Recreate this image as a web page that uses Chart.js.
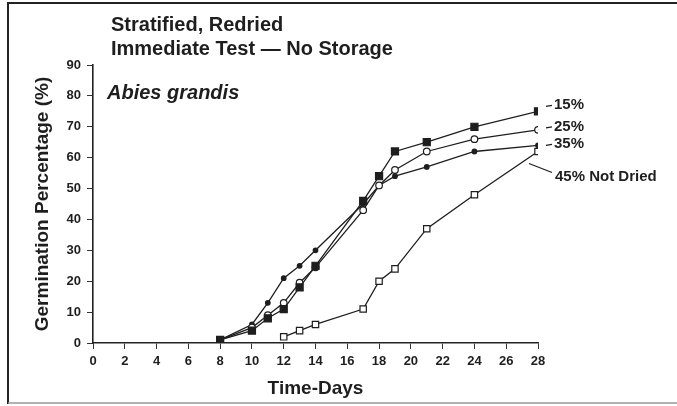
<!DOCTYPE html>
<html lang="en">
<head>
<meta charset="utf-8">
<title>Abies grandis - Germination</title>
<script src="https://cdn.jsdelivr.net/npm/chart.js@4.4.1/dist/chart.umd.min.js"></script>
<style>
  html, body { margin: 0; padding: 0; background: #fff; }
  canvas { display: block; }
</style>
</head>
<body>
<canvas id="germChart" width="677" height="406"></canvas>
<script>
// Données (jours / pourcentage de germination)
const daysDried = [8, 10, 11, 12, 13, 14, 17, 18, 19, 21, 24, 28];
const germ15 = [1, 4, 8, 11, 18, 25, 46, 54, 62, 65, 70, 75];
const germ25 = [1, 5, 9, 13, 19.5, 24.5, 43, 51, 56, 62, 66, 69];
const germ35 = [1, 6, 13, 21, 25, 30, 45, 51, 54, 57, 62, 64];
const daysNotDried = [12, 13, 14, 17, 18, 19, 21, 24, 28];
const germ45 = [2, 4, 6, 11, 20, 24, 37, 48, 62];
const seriesLabels = ['15%', '25%', '35%', '45% Not Dried'];
const xTicks = [0, 2, 4, 6, 8, 10, 12, 14, 16, 18, 20, 22, 24, 26, 28];
const yTicks = [0, 10, 20, 30, 40, 50, 60, 70, 80, 90];
const titleLines = ['Stratified, Redried', 'Immediate Test \u2014 No Storage'];
const speciesName = 'Abies grandis';

document.addEventListener('DOMContentLoaded', () => {
    const ink = '#1e1e1e';
    const font = '"Liberation Sans", Arial, sans-serif';

    const toPoints = (xs, ys) => xs.map((x, i) => ({ x: x, y: ys[i] }));

    // Cadre, titres et étiquettes des courbes
    const decorPlugin = {
        id: 'decor',
        beforeDraw(chart) {
            const ctx = chart.ctx;
            ctx.save();
            ctx.fillStyle = '#fff';
            ctx.fillRect(0, 0, chart.width, chart.height);
            ctx.strokeStyle = '#222';
            ctx.lineWidth = 2;
            ctx.beginPath();
            ctx.moveTo(8, 404);
            ctx.lineTo(8, 3);
            ctx.lineTo(chart.width, 3);
            ctx.stroke();
            ctx.strokeStyle = '#999';
            ctx.lineWidth = 1.5;
            ctx.beginPath();
            ctx.moveTo(8, 403);
            ctx.lineTo(chart.width, 403);
            ctx.stroke();
            ctx.restore();
        },
        afterDraw(chart) {
            const ctx = chart.ctx;
            const xs = chart.scales.x;
            const ys = chart.scales.y;
            ctx.save();
            ctx.fillStyle = ink;
            ctx.textAlign = 'left';
            ctx.textBaseline = 'alphabetic';
            ctx.font = 'bold 20px ' + font;
            ctx.fillText(titleLines[0], 111, 31);
            ctx.fillText(titleLines[1], 111, 55);
            ctx.font = 'italic bold 20px ' + font;
            ctx.fillText(speciesName, 107, 99);

            // Étiquettes à droite des dernières valeurs
            const lastX = xs.getPixelForValue(28);
            const ends = [germ15[germ15.length - 1], germ25[germ25.length - 1], germ35[germ35.length - 1], germ45[germ45.length - 1]];
            const offs = [-6, -3, -1];
            ctx.font = 'bold 15px ' + font;
            ctx.textBaseline = 'middle';
            ctx.strokeStyle = ink;
            ctx.lineWidth = 1.2;
            for (let i = 0; i < 3; i++) {
                const y = ys.getPixelForValue(ends[i]) + offs[i];
                ctx.beginPath();
                ctx.moveTo(lastX + 8, y + 1);
                ctx.lineTo(lastX + 14, y);
                ctx.stroke();
                ctx.fillText(seriesLabels[i], lastX + 16, y);
            }
            const y45 = ys.getPixelForValue(ends[3]);
            ctx.beginPath();
            ctx.moveTo(lastX - 9, y45 + 12);
            ctx.lineTo(lastX + 14, y45 + 21);
            ctx.stroke();
            ctx.fillText(seriesLabels[3], lastX + 17, y45 + 25);
            ctx.restore();
        }
    };

    const lineStyle = {
        showLine: true,
        borderColor: ink,
        borderWidth: 1.3,
        tension: 0,
        pointBorderColor: ink,
        pointBorderWidth: 1.2
    };

    new Chart(document.getElementById('germChart').getContext('2d'), {
        type: 'scatter',
        data: {
            datasets: [
                Object.assign({ label: seriesLabels[0], data: toPoints(daysDried, germ15),
                    pointStyle: 'rect', pointRadius: 5, pointBackgroundColor: ink }, lineStyle),
                Object.assign({ label: seriesLabels[1], data: toPoints(daysDried, germ25),
                    pointStyle: 'circle', pointRadius: 3.3, pointBackgroundColor: '#fff' }, lineStyle),
                Object.assign({ label: seriesLabels[2], data: toPoints(daysDried, germ35),
                    pointStyle: 'circle', pointRadius: 2.3, pointBackgroundColor: ink }, lineStyle),
                Object.assign({ label: seriesLabels[3], data: toPoints(daysNotDried, germ45),
                    pointStyle: 'rect', pointRadius: 4.5, pointBackgroundColor: '#fff' }, lineStyle)
            ]
        },
        options: {
            responsive: false,
            animation: false,
            layout: { padding: { left: 0, top: 65, right: 139, bottom: 0 } },
            plugins: {
                legend: { display: false },
                tooltip: { enabled: false }
            },
            scales: {
                x: {
                    type: 'linear',
                    min: 0,
                    max: 28,
                    afterFit: (scale) => { scale.height = 63; },
                    afterBuildTicks: (scale) => { scale.ticks = xTicks.map(v => ({ value: v })); },
                    grid: { drawOnChartArea: false, drawTicks: true, tickLength: 6, color: '#333', tickWidth: 1 },
                    border: { color: '#222', width: 1.6 },
                    ticks: { color: ink, font: { family: font, size: 13, weight: 'bold' }, padding: 5, maxRotation: 0 },
                    title: { display: true, text: 'Time-Days', color: ink, font: { family: font, size: 19, weight: 'bold' }, padding: { top: 0, bottom: 6 } }
                },
                y: {
                    min: 0,
                    max: 90,
                    afterFit: (scale) => { scale.width = 93; },
                    afterBuildTicks: (scale) => { scale.ticks = yTicks.map(v => ({ value: v })); },
                    grid: { drawOnChartArea: false, drawTicks: true, tickLength: 6, color: '#333', tickWidth: 1 },
                    border: { color: '#222', width: 1.6 },
                    ticks: { color: ink, font: { family: font, size: 13, weight: 'bold' }, padding: 6 },
                    title: { display: true, text: 'Germination Percentage (%)', color: ink, font: { family: font, size: 19, weight: 'bold' }, padding: { top: 31, bottom: 0 } }
                }
            }
        },
        plugins: [decorPlugin]
    });
});
</script>
</body>
</html>
